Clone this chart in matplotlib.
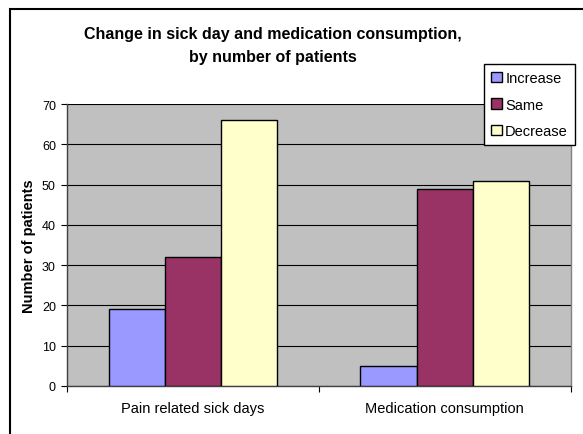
import matplotlib

matplotlib.use("Agg")
import matplotlib.pyplot as plt
import numpy as np
from matplotlib.patches import Rectangle

categories = ["Pain related sick days", "Medication consumption"]
series = ["Increase", "Same", "Decrease"]
increase = [19, 5]
same = [32, 49]
decrease = [66, 51]
yticks = [0, 10, 20, 30, 40, 50, 60, 70]

colors = ["#9999FF", "#993366", "#FFFFCC"]

plt.rcParams["font.family"] = ["Liberation Sans", "DejaVu Sans"]

W, H = 583, 435
fig = plt.figure(figsize=(W / 100, H / 100), dpi=100)

# chart area frame (only top/left edges fall inside the image)
fig.patches.append(Rectangle((10 / W, -0.1), 1.2, 1 - 10 / H + 0.1,
                             transform=fig.transFigure, fill=False,
                             edgecolor="black", linewidth=1.5))

left, right, top, bottom = 67, 570.5, 105, 387
ax = fig.add_axes([left / W, 1 - bottom / H, (right - left) / W, (bottom - top) / H])
ax.set_facecolor("#C0C0C0")

x = np.arange(len(categories))
w = 0.223
for i, (name, vals) in enumerate(zip(series, [increase, same, decrease])):
    ax.bar(x + (i - 1) * w, vals, w, color=colors[i], edgecolor="black",
           linewidth=1.0, label=name, zorder=3)

ax.set_xlim(-0.5, 1.5)
ax.set_ylim(0, 70)
ax.set_yticks(yticks)
ax.set_yticklabels([str(t) for t in yticks], fontsize=9)
ax.yaxis.grid(True, color="black", linewidth=0.8, zorder=1)
ax.set_axisbelow(True)

ax.set_xticks([-0.5, 0.5, 1.5])
ax.set_xticklabels([])
ax.set_xticks(x, minor=True)
ax.set_xticklabels(categories, minor=True, fontsize=10.5)
ax.tick_params(axis="x", which="minor", length=0, pad=11)
ax.tick_params(axis="x", which="major", length=4, width=0.8, direction="out")
ax.tick_params(axis="y", length=4, width=0.8, direction="out", pad=4)

for side in ["left", "bottom"]:
    ax.spines[side].set_color("#404040")
    ax.spines[side].set_linewidth(1.0)
ax.spines["top"].set_visible(False)
ax.spines["right"].set_color("#808080")
ax.spines["right"].set_linewidth(1.0)

ax.set_ylabel("Number of patients", fontsize=10.5, fontweight="bold", labelpad=4)

fig.text(273 / W, 1 - 46 / H,
         "Change in sick day and medication consumption,\nby number of patients",
         ha="center", va="center", fontsize=11.5, fontweight="bold",
         linespacing=1.6)

leg = fig.legend(loc="upper left", bbox_to_anchor=(484 / W, 1 - 65 / H),
                 fontsize=10.5, frameon=True, fancybox=False, borderpad=0.5,
                 handlelength=0.7, handleheight=0.7, handletextpad=0.25,
                 labelspacing=0.85, borderaxespad=0)
leg.get_frame().set_edgecolor("black")
leg.get_frame().set_linewidth(1.0)
leg.get_frame().set_facecolor("white")
leg.get_frame().set_alpha(1)

fig.savefig("out.png", dpi=100)
